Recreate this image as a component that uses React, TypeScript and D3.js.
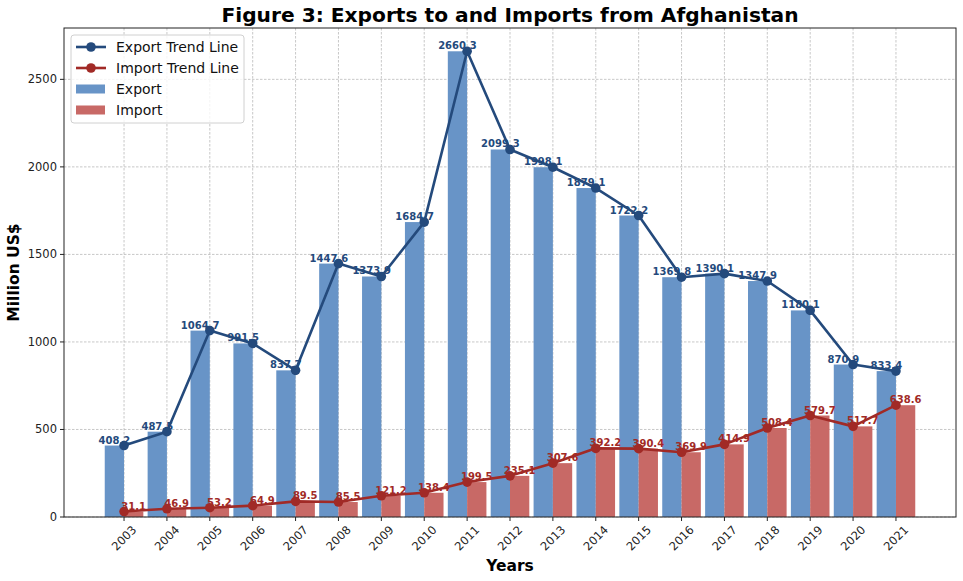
import { useRef, useEffect } from 'react';
import * as d3 from 'd3';

const W = 963;
const H = 581;
const M = { left: 64, right: 7, top: 28, bottom: 64 };

const years = [
  2003, 2004, 2005, 2006, 2007, 2008, 2009, 2010, 2011, 2012, 2013, 2014, 2015, 2016, 2017, 2018,
  2019, 2020, 2021,
];
const exportValues = [
  408.2, 487.5, 1064.7, 991.5, 837.7, 1447.6, 1373.9, 1684.7, 2660.3, 2099.3, 1998.1, 1879.1,
  1722.2, 1369.8, 1390.1, 1347.9, 1180.1, 870.9, 833.4,
];
const importValues = [
  31.1, 46.9, 53.2, 64.9, 89.5, 85.5, 121.2, 138.4, 199.5, 235.1, 307.6, 392.2, 390.4, 369.9,
  414.9, 508.4, 579.7, 517.7, 638.6,
];
const yTicks = [0, 500, 1000, 1500, 2000, 2500];

const EXPORT_BAR = '#6894c7';
const IMPORT_BAR = '#c86966';
const EXPORT_LINE = '#244a7c';
const IMPORT_LINE = '#a12a26';
const FONT = 'DejaVu Sans, sans-serif';
const BAR_W = 0.45;

export default function App() {
  const svgRef = useRef<SVGSVGElement>(null);

  useEffect(() => {
    document.body.style.margin = '0';
    const svg = d3.select(svgRef.current);
    svg.selectAll('*').remove();

    const x0 = M.left;
    const x1 = W - M.right;
    const y0 = H - M.bottom;
    const y1 = M.top;

    const x = d3.scaleLinear().domain([2001.6, 2022.4]).range([x0, x1]);
    const y = d3
      .scaleLinear()
      .domain([0, d3.max(exportValues)! * 1.05])
      .range([y0, y1]);
    const bw = x(2003 + BAR_W) - x(2003);

    svg.append('rect').attr('width', W).attr('height', H).attr('fill', '#fff');

    // grid
    const grid = svg.append('g');
    years.forEach((yr) => {
      grid
        .append('line')
        .attr('x1', x(yr))
        .attr('x2', x(yr))
        .attr('y1', y1)
        .attr('y2', y0)
        .attr('stroke', '#b0b0b0')
        .attr('stroke-width', 0.7)
        .attr('stroke-dasharray', '2.5,1.5');
    });
    yTicks.forEach((t) => {
      grid
        .append('line')
        .attr('x1', x0)
        .attr('x2', x1)
        .attr('y1', y(t))
        .attr('y2', y(t))
        .attr('stroke', '#b0b0b0')
        .attr('stroke-width', 0.7)
        .attr('stroke-dasharray', '2.5,1.5');
    });

    // bars
    years.forEach((yr, i) => {
      svg
        .append('rect')
        .attr('x', x(yr) - bw)
        .attr('y', y(exportValues[i]))
        .attr('width', bw)
        .attr('height', y0 - y(exportValues[i]))
        .attr('fill', EXPORT_BAR);
      svg
        .append('rect')
        .attr('x', x(yr))
        .attr('y', y(importValues[i]))
        .attr('width', bw)
        .attr('height', y0 - y(importValues[i]))
        .attr('fill', IMPORT_BAR);
    });

    // value labels
    years.forEach((yr, i) => {
      svg
        .append('text')
        .attr('x', x(yr) - bw / 2)
        .attr('y', y(exportValues[i]) - 2)
        .attr('text-anchor', 'middle')
        .attr('font-family', FONT)
        .attr('font-size', 10)
        .attr('font-weight', 700)
        .attr('fill', EXPORT_LINE)
        .text(exportValues[i].toFixed(1));
      svg
        .append('text')
        .attr('x', x(yr) + bw / 2)
        .attr('y', y(importValues[i]) - 2)
        .attr('text-anchor', 'middle')
        .attr('font-family', FONT)
        .attr('font-size', 10)
        .attr('font-weight', 700)
        .attr('fill', IMPORT_LINE)
        .text(importValues[i].toFixed(1));
    });

    // trend lines
    const series: [number[], string][] = [
      [exportValues, EXPORT_LINE],
      [importValues, IMPORT_LINE],
    ];
    series.forEach(([vals, color]) => {
      const line = d3
        .line<number>()
        .x((_, i) => x(years[i]))
        .y((d) => y(d));
      svg
        .append('path')
        .attr('d', line(vals))
        .attr('fill', 'none')
        .attr('stroke', color)
        .attr('stroke-width', 2.6)
        .attr('stroke-linejoin', 'round');
      vals.forEach((v, i) => {
        svg
          .append('circle')
          .attr('cx', x(years[i]))
          .attr('cy', y(v))
          .attr('r', 4.8)
          .attr('fill', color);
      });
    });

    // frame
    svg
      .append('rect')
      .attr('x', x0)
      .attr('y', y1)
      .attr('width', x1 - x0)
      .attr('height', y0 - y1)
      .attr('fill', 'none')
      .attr('stroke', '#222')
      .attr('stroke-width', 1);

    // x ticks
    years.forEach((yr) => {
      svg
        .append('line')
        .attr('x1', x(yr))
        .attr('x2', x(yr))
        .attr('y1', y0)
        .attr('y2', y0 + 4)
        .attr('stroke', '#222');
      svg
        .append('text')
        .attr('transform', `translate(${x(yr)},${y0 + 21}) rotate(-45)`)
        .attr('text-anchor', 'middle')
        .attr('dominant-baseline', 'central')
        .attr('font-family', FONT)
        .attr('font-size', 11.5)
        .attr('fill', '#222')
        .text(String(yr));
    });

    // y ticks
    yTicks.forEach((t) => {
      svg
        .append('line')
        .attr('x1', x0 - 4)
        .attr('x2', x0)
        .attr('y1', y(t))
        .attr('y2', y(t))
        .attr('stroke', '#222');
      svg
        .append('text')
        .attr('x', x0 - 7)
        .attr('y', y(t))
        .attr('text-anchor', 'end')
        .attr('dominant-baseline', 'central')
        .attr('font-family', FONT)
        .attr('font-size', 11.5)
        .attr('fill', '#222')
        .text(String(t));
    });

    // title & axis labels
    svg
      .append('text')
      .attr('x', (x0 + x1) / 2)
      .attr('y', 22)
      .attr('text-anchor', 'middle')
      .attr('font-family', FONT)
      .attr('font-size', 20.2)
      .attr('font-weight', 700)
      .text('Figure 3: Exports to and Imports from Afghanistan');
    svg
      .append('text')
      .attr('x', (x0 + x1) / 2)
      .attr('y', 571)
      .attr('text-anchor', 'middle')
      .attr('font-family', FONT)
      .attr('font-size', 15.5)
      .attr('font-weight', 700)
      .text('Years');
    svg
      .append('text')
      .attr('transform', `translate(19,${(y0 + y1) / 2}) rotate(-90)`)
      .attr('text-anchor', 'middle')
      .attr('font-family', FONT)
      .attr('font-size', 15.5)
      .attr('font-weight', 700)
      .text('Million US$');

    // legend
    const lg = svg.append('g').attr('transform', 'translate(71,35)');
    lg.append('rect')
      .attr('width', 173)
      .attr('height', 88)
      .attr('rx', 3)
      .attr('fill', '#fff')
      .attr('fill-opacity', 0.8)
      .attr('stroke', '#d0d0d0');
    const items: [string, string, 'line' | 'patch'][] = [
      ['Export Trend Line', EXPORT_LINE, 'line'],
      ['Import Trend Line', IMPORT_LINE, 'line'],
      ['Export', EXPORT_BAR, 'patch'],
      ['Import', IMPORT_BAR, 'patch'],
    ];
    items.forEach(([label, color, kind], i) => {
      const cy = 12 + i * 21;
      if (kind === 'line') {
        lg.append('line')
          .attr('x1', 5)
          .attr('x2', 35)
          .attr('y1', cy)
          .attr('y2', cy)
          .attr('stroke', color)
          .attr('stroke-width', 2.6);
        lg.append('circle').attr('cx', 20).attr('cy', cy).attr('r', 4.8).attr('fill', color);
      } else {
        lg.append('rect')
          .attr('x', 5)
          .attr('y', cy - 4.5)
          .attr('width', 29)
          .attr('height', 9)
          .attr('fill', color);
      }
      lg.append('text')
        .attr('x', 45)
        .attr('y', cy)
        .attr('dominant-baseline', 'central')
        .attr('font-family', FONT)
        .attr('font-size', 14)
        .attr('fill', '#111')
        .text(label);
    });
  }, []);

  return <svg ref={svgRef} width={W} height={H} style={{ display: 'block' }} />;
}
